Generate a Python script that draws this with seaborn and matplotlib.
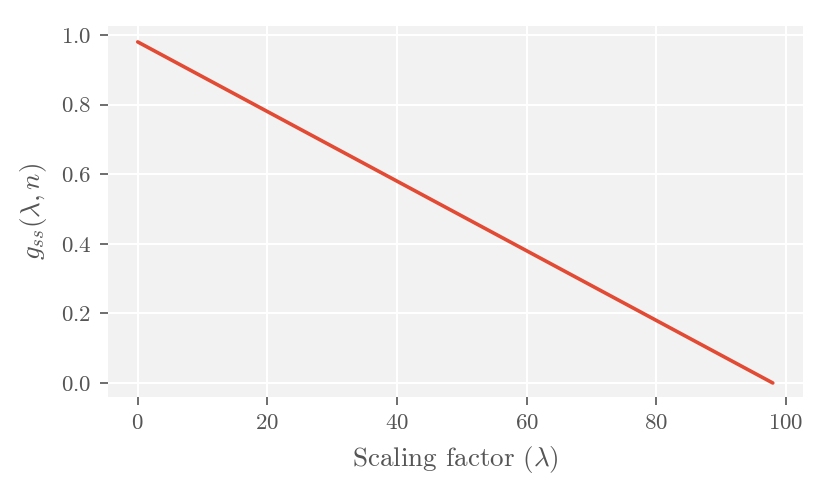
import matplotlib
matplotlib.use("Agg")
import matplotlib.pyplot as plt
import seaborn as sns
import pandas as pd

# values
scaling = [0, 20, 40, 60, 80, 98]
g_ss = [0.98, 0.78, 0.58, 0.38, 0.18, 0.0]


def main():
    sns.set_theme(style="darkgrid", rc={
        "axes.facecolor": "#F2F2F2",
        "grid.color": "white",
        "grid.linewidth": 1.5,
        "xtick.bottom": True,
        "ytick.left": True,
        "xtick.color": "#555555",
        "ytick.color": "#555555",
        "xtick.major.size": 6,
        "ytick.major.size": 6,
        "xtick.major.width": 1.2,
        "ytick.major.width": 1.2,
        "axes.labelcolor": "#555555",
        "text.color": "#555555",
    })
    plt.rcParams["font.family"] = ["cmr10", "DejaVu Serif"]
    plt.rcParams["mathtext.fontset"] = "cm"
    plt.rcParams["axes.formatter.use_mathtext"] = True

    df = pd.DataFrame({"lam": scaling, "g": g_ss})

    fig, ax = plt.subplots(figsize=(8.3, 4.98), dpi=100)
    sns.lineplot(data=df, x="lam", y="g", color="#E24A33", linewidth=2.6, ax=ax)
    ax.set_xlabel(r"Scaling factor ($\lambda$)", fontsize=19.5, labelpad=8)
    ax.set_ylabel(r"$g_{ss}(\lambda, n)$", fontsize=19.5, labelpad=8)
    ax.set_xticks([0, 20, 40, 60, 80, 100])
    ax.set_yticks([0.0, 0.2, 0.4, 0.6, 0.8, 1.0])
    ax.tick_params(labelsize=16.5, pad=6)
    ax.set_xlim(-4.6, 102.6)
    ax.set_ylim(-0.04, 1.026)
    for s in ax.spines.values():
        s.set_visible(False)

    fig.subplots_adjust(left=0.13, right=0.967, top=0.948, bottom=0.203)
    fig.savefig("out.png")


main()
